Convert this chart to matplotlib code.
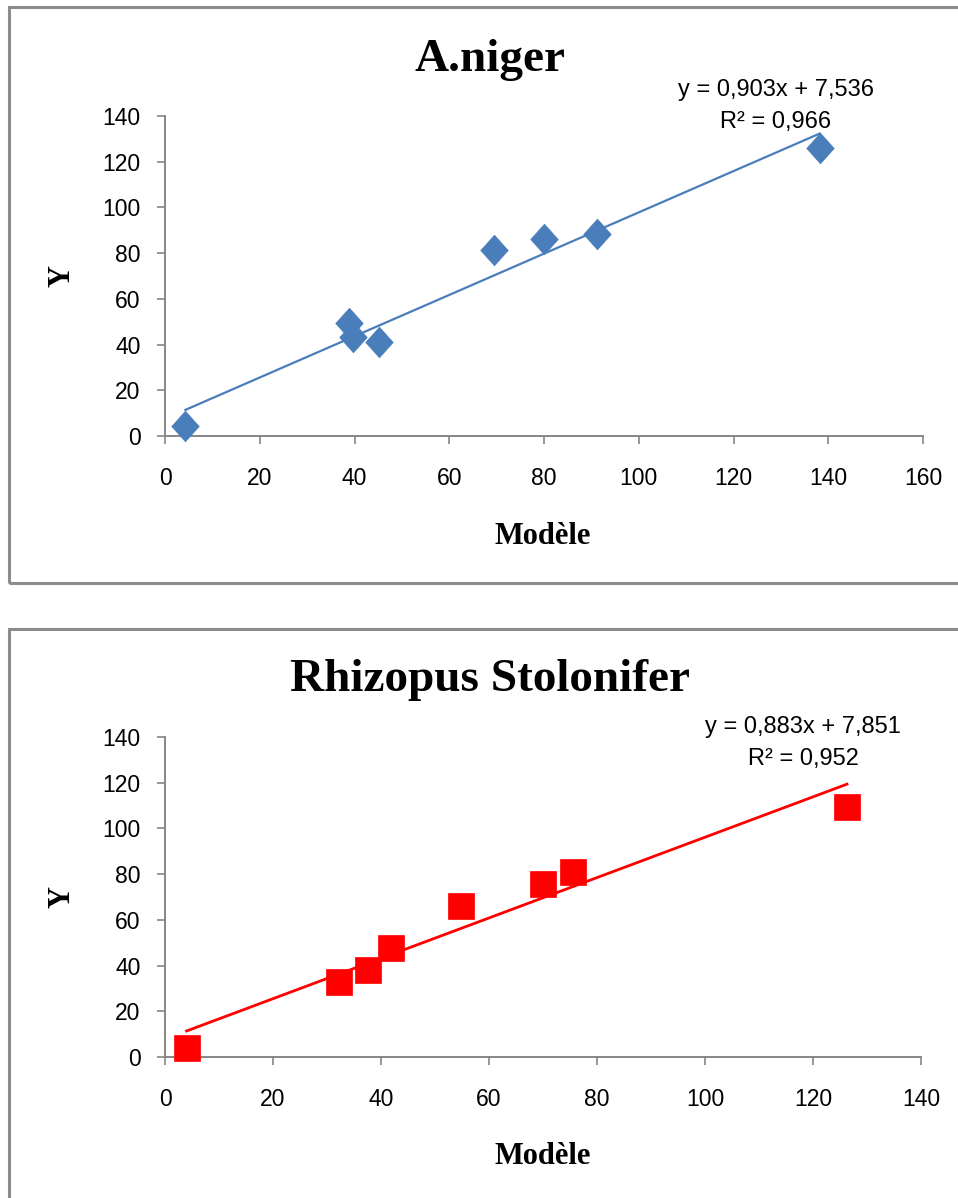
import numpy as np
import matplotlib
matplotlib.use("Agg")
import matplotlib.pyplot as plt
from matplotlib.patches import Rectangle
from matplotlib.path import Path

# A. niger : model prediction vs observed Y
niger_model = [4.3, 38.9, 39.7, 45.2, 69.5, 79.9, 91.2, 138.2]
niger_y = [4.4, 49.3, 43.2, 41.0, 81.2, 86.3, 88.5, 125.8]
niger_slope, niger_icpt, niger_r2 = 0.903, 7.536, 0.966

# Rhizopus stolonifer
rhizo_model = [4.0, 32.3, 37.6, 41.9, 54.8, 70.0, 75.6, 126.3]
rhizo_y = [3.9, 32.7, 37.9, 47.8, 66.2, 75.9, 81.1, 109.4]
rhizo_slope, rhizo_icpt, rhizo_r2 = 0.883, 7.851, 0.952

W, H = 958, 1198
GREY = "#868686"
SERIF = "Liberation Serif"
SANS = "Liberation Sans"

# diamond slightly taller than wide
DIAMOND = Path([(0, 1), (0.9, 0), (0, -1), (-0.9, 0), (0, 1)],
               [Path.MOVETO, Path.LINETO, Path.LINETO, Path.LINETO, Path.CLOSEPOLY])

fig = plt.figure(figsize=(W / 100, H / 100), dpi=100)


def px_box(left, top, right, bottom):
    return [left / W, 1 - bottom / H, (right - left) / W, (bottom - top) / H]


def fmt(v):
    return f"{v:.3f}".replace(".", ",")


def panel(box, frame, x, y, slope, icpt, r2, xmax, title, color, marker, ms,
          lw, title_y, eq_xy, ylab_x, xlab_y):
    # grey border round each chart
    fl, ft, fr, fb = frame
    fig.patches.append(Rectangle((fl / W, 1 - fb / H), (fr - fl) / W, (fb - ft) / H,
                                 transform=fig.transFigure, fill=False,
                                 edgecolor="#8c8c8c", linewidth=2.2, zorder=0))
    ax = fig.add_axes(px_box(*box))
    ax.set_xlim(0, xmax)
    ax.set_ylim(0, 140)
    ax.set_xticks(np.arange(0, xmax + 1, 20))
    ax.set_yticks(np.arange(0, 141, 20))
    for s in ["top", "right"]:
        ax.spines[s].set_visible(False)
    for s in ["left", "bottom"]:
        ax.spines[s].set_color(GREY)
        ax.spines[s].set_linewidth(1.4)
    ax.tick_params(direction="out", length=5.5, width=1.2, color=GREY,
                   labelsize=16.5)
    ax.tick_params(axis="x", pad=17)
    ax.tick_params(axis="y", pad=12)
    for lab in ax.get_xticklabels() + ax.get_yticklabels():
        lab.set_fontfamily(SANS)

    # linear trend line from the stated equation
    xs = np.array([min(x), max(x)])
    ax.plot(xs, slope * xs + icpt, color=color, lw=lw, zorder=2, clip_on=False)
    ax.plot(x, y, linestyle="none", marker=marker, ms=ms, color=color,
            markeredgecolor=color, markeredgewidth=0.5, zorder=3, clip_on=False)

    fig.text(490 / W, 1 - title_y / H, title, ha="center", va="center",
             fontsize=34, fontweight="bold", family=SERIF)
    ex, ey = eq_xy
    fig.text(ex / W, 1 - ey / H, f"y = {fmt(slope)}x + {fmt(icpt)}",
             ha="center", va="center", fontsize=17, family=SANS)
    fig.text(ex / W, 1 - (ey + 32) / H, f"R² = {fmt(r2)}",
             ha="center", va="center", fontsize=17, family=SANS)
    fig.text(ylab_x / W, 1 - ((box[1] + box[3]) / 2) / H, "Y", rotation=90,
             ha="center", va="center", fontsize=22, fontweight="bold", family=SERIF)
    fig.text(543 / W, 1 - xlab_y / H, "Modèle", ha="center", va="center",
             fontsize=22, fontweight="bold", family=SERIF)
    return ax


panel((165, 116, 923, 436), (9, 7, 975, 583), niger_model, niger_y,
      niger_slope, niger_icpt, niger_r2, 160, "A.niger", "#4A7EBB", DIAMOND, 22,
      1.6, 60, (776, 90), 62, 536)

panel((165, 737, 921, 1057), (9, 629, 975, 1215), rhizo_model, rhizo_y,
      rhizo_slope, rhizo_icpt, rhizo_r2, 140, "Rhizopus Stolonifer", "#FF0000",
      "s", 19, 2.0, 680, (803, 727), 62, 1157)

fig.savefig("out.png", dpi=100)
